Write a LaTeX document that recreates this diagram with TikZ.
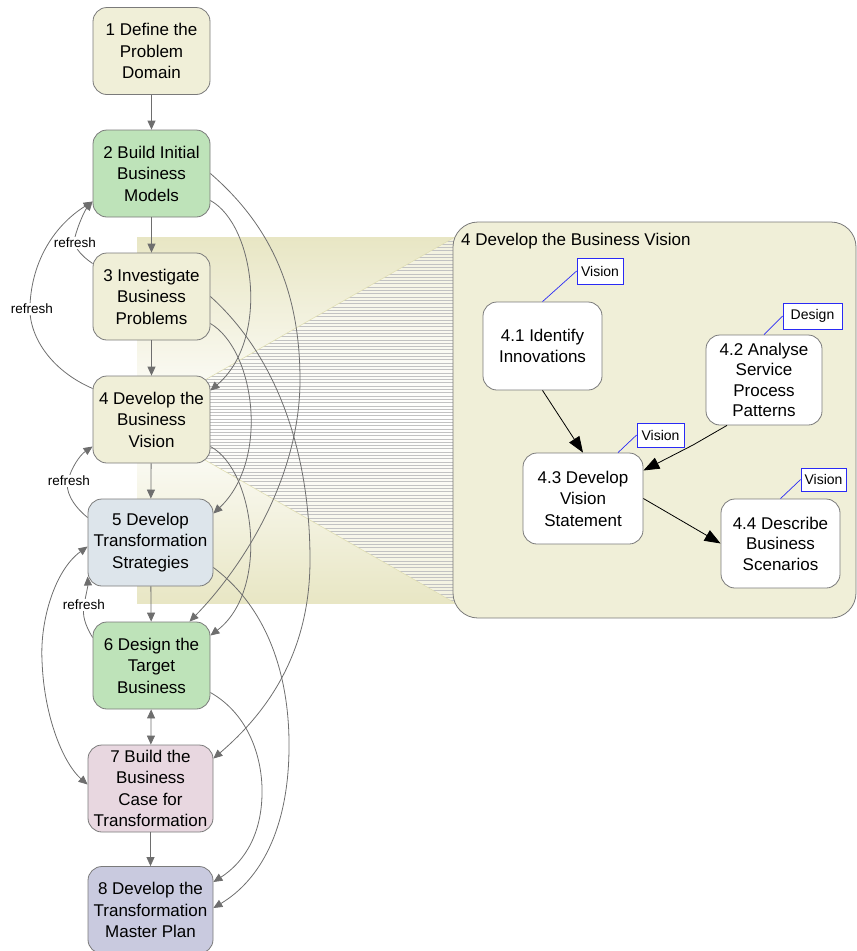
\documentclass[tikz,border=0pt]{standalone}
\usepackage{fontspec}
\setmainfont{Liberation Sans}
\usetikzlibrary{arrows.meta,calc}

\definecolor{beige}{HTML}{F0EFD8}
\definecolor{leaf}{HTML}{BEE3B9}
\definecolor{mist}{HTML}{DDE5EB}
\definecolor{blush}{HTML}{E8D7E0}
\definecolor{lilac}{HTML}{C9CADF}
\definecolor{olivebg}{HTML}{E8E6C4}
\definecolor{fanedge}{HTML}{E2E0B4}
\definecolor{edgegray}{HTML}{7A7A7A}
\definecolor{linegray}{HTML}{6E6E6E}
\definecolor{tagblue}{HTML}{2A2AF5}

\begin{document}
\begin{tikzpicture}[x=1pt,y=-1pt,
  stage/.style={draw=edgegray, line width=0.8pt, rounded corners=14pt, align=center,
    font=\fontsize{17}{21.5}\selectfont, inner sep=0pt,
    minimum width=117pt, minimum height=87pt},
  wide/.style={minimum width=125pt},
  sub/.style={stage, fill=white},
  tag/.style={draw=tagblue, line width=0.8pt, fill=white, inner sep=0pt,
    font=\fontsize{14}{16}\selectfont},
  tagline/.style={draw=tagblue, line width=0.7pt},
  flow/.style={draw=linegray, line width=0.8pt, -{Triangle[length=9pt,width=8pt]}},
  both/.style={draw=linegray, line width=0.8pt,
    {Triangle[length=9pt,width=8pt]}-{Triangle[length=9pt,width=8pt]}},
  inner/.style={draw=black, line width=0.8pt, -{Triangle[length=16pt,width=12pt]}},
  refr/.style={fill=white, inner sep=1pt, font=\fontsize{13.5}{15}\selectfont},
  stripe/.style={draw=black!24, line width=0.5pt}]

\useasboundingbox (0,0) rectangle (857,951);

% shaded band behind the middle stages
\shade[top color=olivebg, bottom color=olivebg, middle color=white]
  (137,237) rectangle (455,603);

% striped fan opening from stage 4 towards its detail panel
\begin{scope}
  \clip (205,380) -- (455,237) -- (455,603) -- (205,460) -- cycle;
  \shade[top color=olivebg!55, bottom color=olivebg!55, middle color=white]
    (200,237) rectangle (455,603);
  \foreach \k in {0,...,111} {
    \pgfmathsetmacro\yy{237.5+3.3*\k}
    \draw[stripe] (200,\yy) -- (455,\yy);
  }
\end{scope}
\draw[fanedge, line width=0.6pt] (205,380) -- (455,237);
\draw[fanedge, line width=0.6pt] (205,460) -- (455,603);

% main stages
\node[stage, fill=beige] (n1) at (151.5,51)    {1 Define the\\Problem\\Domain};
\node[stage, fill=leaf]  (n2) at (151.5,173.5) {2 Build Initial\\Business\\Models};
\node[stage, fill=beige] (n3) at (151.5,296.5) {3 Investigate\\Business\\Problems};
\node[stage, fill=beige] (n4) at (151.5,419.5) {4 Develop the\\Business\\Vision};
\node[stage, wide, fill=mist]  (n5) at (150.5,542.5) {5 Develop\\Transformation\\Strategies};
\node[stage, fill=leaf]  (n6) at (151.5,665.5) {6 Design the\\Target\\Business};
\node[stage, wide, fill=blush] (n7) at (150.5,788.5) {7 Build the\\Business\\Case for\\Transformation};
\node[stage, wide, fill=lilac] (n8) at (150.5,910)   {8 Develop the\\Transformation\\Master Plan};

% main sequence
\draw[flow] (n1) -- (n2);
\draw[flow] (n2) -- (n3);
\draw[flow] (n3) -- (n4);
\draw[flow] (n4) -- (n5);
\draw[flow] (n5) -- (n6);
\draw[both] (n6) -- (n7);
\draw[flow] (n7) -- (n8);

% forward dependencies on the right
\draw[flow] (n2.east) .. controls (270,225) and (300,290) .. (300,380)
  .. controls (300,480) and (240,570) .. ([xshift=38pt]n6.north);
\draw[flow] ([yshift=-27pt]n2.east) .. controls (255,225) and (270,340) .. ([yshift=29pt]n4.east);
\draw[flow] (n3.east) .. controls (270,350) and (310,440) .. (310,560)
  .. controls (310,650) and (270,710) .. ([yshift=30pt]n7.east);
\draw[flow] ([yshift=-27pt]n3.east) .. controls (255,350) and (270,460) .. ([yshift=29pt]n5.east);
\draw[flow] ([yshift=-27pt]n4.east) .. controls (255,470) and (270,590) .. ([yshift=30pt]n6.east);
\draw[flow] ([yshift=-25pt]n5.east) .. controls (270,610) and (290,680) .. (289,750)
  .. controls (288,830) and (260,880) .. ([yshift=2pt]n8.east);
\draw[flow] ([yshift=-27pt]n6.east) .. controls (250,715) and (263,760) .. (262,795)
  .. controls (261,840) and (240,865) .. ([yshift=28pt]n8.east);

% refresh loops on the left
\draw[flow] ([yshift=33pt]n3.west) .. controls (80,255) and (72,245) .. (75,237)
  .. controls (78,225) and (85,210) .. ([yshift=-28pt]n2.west);
\draw[flow] ([yshift=31pt]n4.west) .. controls (50,370) and (28,335) .. (30,305)
  .. controls (32,260) and (55,225) .. ([yshift=-28pt]n2.west);
\draw[flow] ([yshift=25pt]n5.west) .. controls (72,505) and (65,490) .. (68,481)
  .. controls (71,468) and (80,455) .. ([yshift=-27pt]n4.west);
\draw[flow] ([yshift=28pt]n6.west) .. controls (85,625) and (82,615) .. (84,605)
  .. controls (86,595) and (88,585) .. ([yshift=-34pt]n5.west);
\draw[both] ([yshift=-4pt]n5.west) .. controls (55,570) and (40,620) .. (42,660)
  .. controls (44,720) and (65,765) .. ([yshift=4pt]n7.west);

\node[refr] (r1) at (75,243) {refresh};
\node[refr] (r2) at (32,309) {refresh};
\node[refr] (r3) at (69,481) {refresh};
\node[refr] (r4) at (84,605) {refresh};

% detail panel of stage 4
\node[draw=edgegray, fill=beige, line width=0.8pt, rounded corners=25pt,
  minimum width=403pt, minimum height=396pt, inner sep=0pt] (panel) at (654.5,420) {};
\node[anchor=west, inner sep=0pt, font=\fontsize{17}{20}\selectfont] (ptitle) at (461,241)
  {4 Develop the Business Vision};

\node[sub, minimum width=119pt, minimum height=88pt] (p1) at (542.5,346)
  {4.1 Identify\\Innovations};
\node[sub, minimum width=116pt, minimum height=90pt, font=\fontsize{17}{20.5}\selectfont] (p2) at (764,380)
  {4.2 Analyse\\Service\\Process\\Patterns};
\node[sub, minimum width=120pt, minimum height=91pt] (p3) at (583,498.5)
  {4.3 Develop\\Vision\\Statement};
\node[sub, minimum width=119pt, minimum height=89pt, font=\fontsize{17}{20.5}\selectfont] (p4) at (780.5,543.5)
  {4.4 Describe\\Business\\Scenarios};

\node[tag, minimum width=46pt, minimum height=26pt] (t1) at (600,271) {Vision};
\node[tag, minimum width=59pt, minimum height=26pt] (t2) at (812.5,316) {Design};
\node[tag, minimum width=47pt, minimum height=24pt] (t3) at (660.5,435) {Vision};
\node[tag, minimum width=45pt, minimum height=23pt] (t4) at (823.5,479.5) {Vision};

\draw[tagline] (t1.west) -- (p1.north);
\draw[tagline] (t2.west) -- (p2.north);
\draw[tagline] (t3.west) -- ([xshift=35pt]p3.north);
\draw[tagline] (t4.west) -- (p4.north);

\draw[inner] (p1.south) -- (p3.north);
\draw[inner] ([xshift=-37pt]p2.south) -- (693,445) -- ([yshift=28pt]p3.east);
\draw[inner] (p3.east) -- (p4.west);

\end{tikzpicture}
\end{document}
